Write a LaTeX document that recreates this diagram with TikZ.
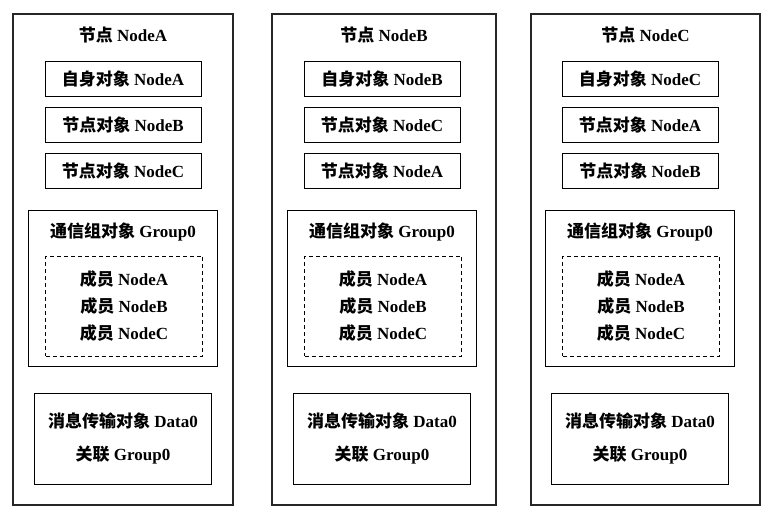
\documentclass[tikz,border=0pt]{standalone}
\usepackage{fontspec}
\setmainfont{Liberation Serif}
\newfontfamily\cjk{Noto Sans CJK SC}
\newcommand*\zh[1]{{\cjk #1}}
\usetikzlibrary{positioning}
\tikzset{
	panel/.style={
		rectangle,
		draw=black!85, line width=2pt,
		minimum height=491pt,
		inner sep=0pt},
	title/.style={
		font=\fontsize{17pt}{20pt}\selectfont\bfseries,
		inner sep=0pt},
	objbox/.style={
		rectangle,
		draw, line width=0.8pt,
		minimum width=156pt,
		minimum height=35pt,
		inner sep=0pt,
		font=\fontsize{17pt}{20pt}\selectfont\bfseries},
	groupbox/.style={
		rectangle,
		draw, line width=0.8pt,
		minimum width=189pt,
		minimum height=156pt,
		inner sep=0pt},
	memberbox/.style={
		rectangle,
		draw, line width=0.8pt, dash pattern=on 4pt off 3pt,
		minimum width=157pt,
		minimum height=100pt,
		inner sep=0pt,
		align=center,
		font=\fontsize{17pt}{27pt}\selectfont\bfseries},
	databox/.style={
		rectangle,
		draw, line width=0.8pt,
		minimum width=177pt,
		minimum height=91pt,
		inner sep=0pt,
		align=center,
		font=\fontsize{17pt}{33pt}\selectfont\bfseries},
}

\begin{document}
\begin{tikzpicture}
[x=1pt, y=-1pt, node distance=10pt]
\useasboundingbox (0,0) rectangle (765,514);
\foreach \px/\pw/\cx/\me/\na/\nb in {123/220/123/A/B/C, 384/224/382/B/C/A, 645.5/229/640/C/A/B}{
	\node[panel, minimum width=\pw pt] (panel\me) at (\px,259.5) {};
	\node[title] (title\me) at (\px,35) {\zh{节点} Node\me};
	% node objects
	\node[objbox] (self\me) at (\cx,79) {\zh{自身对象} Node\me};
	\node[objbox, below=of self\me] (obj\me\na) {\zh{节点对象} Node\na};
	\node[objbox, below=of obj\me\na] (obj\me\nb) {\zh{节点对象} Node\nb};
	% group object
	\node[groupbox] (group\me) at (\cx,288) {};
	\node[title] (gtitle\me) at (\cx,232) {\zh{通信组对象} Group0};
	\node[memberbox] (member\me) at (\cx+1,306)
		{\zh{成员} NodeA\\\zh{成员} NodeB\\\zh{成员} NodeC};
	% data object
	\node[databox] (data\me) at (\cx,438.5)
		{\zh{消息传输对象} Data0\\\zh{关联} Group0};
}
\end{tikzpicture}
\end{document}
